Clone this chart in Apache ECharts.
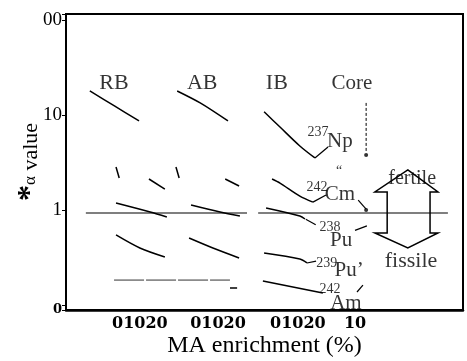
<!DOCTYPE html>
<html>
<head>
<meta charset="utf-8">
<script src="https://cdn.jsdelivr.net/npm/echarts@6/dist/echarts.min.js"></script>
<style>
    html, body {margin: 0; padding: 0; background: #fff;}
    #main {width: 467px; height: 361px;}
</style>
</head>
<body>
<div id="main"></div>
<script>
var serif = 'Liberation Serif';

// x: position along the frame (0..100), y: alpha value (log axis)
var npRB = [[6.0, 17.9], [12.3, 12.4], [18.4, 8.65]];
var npAB = [[28.0, 17.9], [33.8, 13.4], [40.8, 8.65]];
var npIB = [[49.9, 10.8], [53.9, 7.47], [58.9, 4.72], [62.7, 3.53]];
var cmRB = [[12.6, 2.84], [13.4, 2.17]];
var cmRB2 = [[20.9, 2.12], [24.9, 1.66]];
var cmAB = [[27.7, 2.84], [28.5, 2.17]];
var cmAB2 = [[40.1, 2.12], [43.6, 1.79]];
var cmIB = [[51.9, 2.12], [53.9, 1.92], [58.9, 1.40], [62.2, 1.21]];
var pu238RB = [[12.6, 1.185], [21.2, 0.953], [25.4, 0.844]];
var pu238AB = [[31.5, 1.13], [38.8, 0.953], [43.8, 0.865]];
var pu238IB = [[50.4, 1.05], [58.9, 0.865], [60.2, 0.804]];
var pu239RB = [[12.6, 0.546], [18.6, 0.398], [24.9, 0.320]];
var pu239AB = [[31.0, 0.507], [37.0, 0.398], [43.6, 0.313]];
var pu239IB = [[49.9, 0.353], [58.9, 0.305], [60.7, 0.277]];
var amRB = [[12.1, 0.183], [41.3, 0.183]];
var amAB = [[41.3, 0.151], [43.1, 0.151]];
var amIB = [[49.6, 0.179], [64.7, 0.134]];
var unity = [[5.0, 0.93], [45.6, 0.93]];
var unity2 = [[48.4, 0.93], [96.2, 0.93]];

// core values
var coreNp = [[75.6, 13.4], [75.6, 4.1]];
var coreDots = [[75.6, 3.79], [75.6, 1.0]];

// pointer lines from curves / core points to the labels
var leaders = [
    [[62.7, 3.53], [66.0, 4.6]],
    [[62.2, 1.21], [65.5, 1.44]],
    [[73.6, 1.27], [75.6, 1.02]],
    [[60.4, 0.80], [62.9, 0.70]],
    [[72.8, 0.61], [75.8, 0.68]],
    [[60.7, 0.277], [63.0, 0.29]],
    [[73.3, 0.137], [74.8, 0.162]]
];

var labelText = ['RB', 'AB', 'IB', 'Core', '237', 'Np', '\u201c', '242', 'Cm', '238', 'Pu', '239', 'Pu\u2019', '242', 'Am', 'fertile', 'fissile'];
var labelX = [12.1, 34.3, 53.1, 72.0, 63.5, 69.0, 68.8, 63.2, 69.0, 66.5, 69.3, 65.7, 71.3, 66.5, 70.5, 87.2, 86.9];
var labelY = [21.7, 21.7, 21.7, 21.7, 6.62, 5.32, 2.57, 1.75, 1.44, 0.662, 0.483, 0.277, 0.233, 0.148, 0.105, 2.12, 0.29];
var labelSize = [22, 22, 22, 21, 14, 21, 14, 14, 21, 14, 21, 14, 21, 14, 21, 20, 22];

// fertile / fissile double arrow outline
var arrowX = [86.1, 93.7, 91.7, 91.7, 93.7, 86.1, 77.8, 80.9, 80.9, 77.8];
var arrowY = [2.64, 1.55, 1.55, 0.573, 0.573, 0.398, 0.573, 0.573, 1.55, 1.55];

var xTickPos = [18.6, 38.3, 58.4, 72.8];
var xTickText = ['01020', '01020', '01020', '10'];

var myChart = echarts.init(document.getElementById('main'));

function lineSeries(d, w, color, type) {
    return {
        type: 'line',
        data: d,
        symbol: 'none',
        smooth: d.length > 2 ? 0.3 : false,
        silent: true,
        lineStyle: {color: color || '#000', width: w, type: type || 'solid'}
    };
}

var curves = [npRB, npAB, npIB, cmRB, cmRB2, cmAB, cmAB2, cmIB,
    pu238RB, pu238AB, pu238IB, pu239RB, pu239AB, pu239IB, amAB, amIB];

var series = [];
curves.forEach(function (d) {
    series.push(lineSeries(d, 1.5));
});
series.push(lineSeries(amRB, 1, '#333', [30, 2]));
series.push(lineSeries(unity, 1.2));
series.push(lineSeries(unity2, 1.2));
series.push(lineSeries(coreNp, 1, '#000', [3, 2]));
leaders.forEach(function (d) {
    series.push(lineSeries(d, 1.2));
});
series.push({
    type: 'scatter',
    data: coreDots,
    symbol: 'circle',
    symbolSize: 4,
    itemStyle: {color: '#000'},
    silent: true
});
series.push({
    type: 'custom',
    silent: true,
    data: [[0, 1]],
    renderItem: function (params, api) {
        var pts = arrowX.map(function (x, i) {
            return api.coord([x, arrowY[i]]);
        });
        return {
            type: 'polygon',
            shape: {points: pts},
            style: {fill: 'none', stroke: '#000', lineWidth: 1.5}
        };
    }
});
series.push({
    type: 'scatter',
    symbolSize: 0,
    silent: true,
    data: labelText.map(function (t, i) {
        return {
            value: [labelX[i], labelY[i]],
            label: {formatter: t, fontSize: labelSize[i]}
        };
    }),
    label: {
        show: true,
        position: 'inside',
        color: '#000',
        fontFamily: serif,
        align: 'center',
        verticalAlign: 'middle'
    }
});

var option = {
    animation: false,
    grid: {
        left: 66,
        right: 4,
        top: 14,
        bottom: 51,
        containLabel: false,
        outerBoundsMode: 'none',
        show: true,
        borderColor: '#000',
        borderWidth: 2
    },
    xAxis: {
        type: 'value',
        min: 0,
        max: 100,
        splitLine: {show: false},
        axisTick: {show: false},
        axisLine: {lineStyle: {color: '#000', width: 2.5}},
        axisLabel: {
            customValues: xTickPos,
            formatter: function (v) {
                var i = xTickPos.indexOf(v);
                return i >= 0 ? xTickText[i] : '';
            },
            fontFamily: 'DejaVu Serif',
            fontWeight: 'bold',
            fontSize: 16,
            color: '#000',
            margin: 6
        },
        name: 'MA enrichment (%)',
        nameLocation: 'middle',
        nameGap: 24,
        nameMoveOverlap: false,
        nameTextStyle: {fontFamily: serif, fontSize: 24, color: '#000'}
    },
    yAxis: {
        type: 'log',
        logBase: 10,
        min: 0.0886,
        max: 115.6,
        splitLine: {show: false},
        axisLine: {lineStyle: {color: '#000', width: 2}},
        axisTick: {show: true, length: 4, lineStyle: {color: '#000'}},
        axisLabel: {
            fontFamily: serif,
            fontSize: 19,
            color: '#000',
            margin: 4,
            showMinLabel: true,
            showMaxLabel: true,
            formatter: function (v) {
                if (Math.abs(v - 100) < 1) return '00';
                if (Math.abs(v - 10) < 0.1) return '10';
                if (Math.abs(v - 1) < 0.01) return '1';
                if (v < 0.095) return '{b|0}';
                return '';
            },
            rich: {
                b: {fontFamily: 'DejaVu Serif', fontWeight: 'bold', fontSize: 13, color: '#000'}
            }
        },
        name: '{s|*}{a|\u03b1}{v| value}',
        nameLocation: 'middle',
        nameRotate: 90,
        nameGap: 19,
        nameMoveOverlap: false,
        nameTextStyle: {
            rich: {
                s: {fontFamily: serif, fontWeight: 'bold', fontSize: 32, color: '#000'},
                a: {fontFamily: serif, fontSize: 17, color: '#000'},
                v: {fontFamily: serif, fontSize: 22, color: '#000'}
            }
        }
    },
    series: series
};

myChart.setOption(option);
</script>
</body>
</html>
